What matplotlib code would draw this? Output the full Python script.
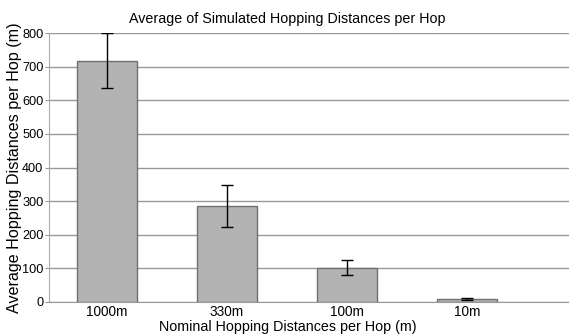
import matplotlib
matplotlib.use("Agg")
import matplotlib.pyplot as plt
import numpy as np

categories = ["1000m", "330m", "100m", "10m"]
means = [717, 286, 102, 8]
err_low = [80, 62, 23, 2]
err_high = [83, 62, 23, 3]
yticks = [0, 100, 200, 300, 400, 500, 600, 700, 800]

plt.rcParams['font.family'] = ['Liberation Sans', 'DejaVu Sans']
fig = plt.figure(figsize=(5.69, 3.35), dpi=100)
ax = fig.add_axes([49/569, 1-302/335, (569-49)/569, (302-33)/335])
x = np.arange(len(categories))
ax.bar(x, means, width=0.5, color='#b3b3b3', edgecolor='#707070', linewidth=1, zorder=3)
ax.errorbar(x, means, yerr=[err_low, err_high], fmt='none', ecolor='black',
            elinewidth=1, capsize=4, capthick=1, zorder=4)
ax.set_xlim(-0.48, 3.85)
ax.set_ylim(0, 800)
ax.set_yticks(yticks)
ax.set_xticks(x)
ax.set_xticklabels(categories)
ax.yaxis.grid(True, color='#999999', linewidth=1, zorder=0)
for s in ['top', 'right']:
    ax.spines[s].set_visible(False)
ax.spines['bottom'].set_color('#999999')
ax.spines['left'].set_color('#aaaaaa')
ax.tick_params(axis='y', length=3, color='#999999', labelsize=9.2, pad=1)
ax.tick_params(axis='x', length=0, labelsize=9.8, pad=2)
ax.set_title("Average of Simulated Hopping Distances per Hop", fontsize=10.3, pad=7, x=0.459)
ax.set_xlabel("Nominal Hopping Distances per Hop (m)", fontsize=10.3, labelpad=1, x=0.459)
ax.set_ylabel("Average Hopping Distances per Hop (m)", fontsize=11.6)
ax.yaxis.set_label_coords(-0.052, 0.5)
fig.savefig("out.png", dpi=100)
